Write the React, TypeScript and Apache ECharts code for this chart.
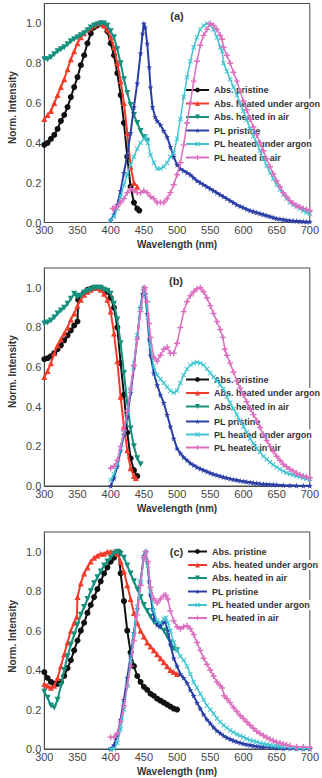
import React, { useEffect, useRef } from 'react';
import * as echarts from 'echarts';

// ---------- data ----------
const seriesNames = ['Abs. pristine', 'Abs. heated under argon', 'Abs. heated in air', 'PL pristine', 'PL heated under argon', 'PL heated in air'];
const panelLabels = ['(a)', '(b)', '(c)'];
const xMin = 300, xMax = 700, xStep = 50;
const yMin = 0, yMax = 1.1, yStep = 0.2;

// panel (a)
const aAbsPristine = [[300,.39],[305,.40],[310,.42],[315,.44],[320,.47],[325,.51],[330,.54],[335,.58],[340,.63],[345,.68],[350,.73],[355,.79],[360,.84],[365,.90],[370,.95],[375,.98],[380,.99],[385,1.0],[390,.99],[395,.96],[400,.90],[405,.84],[410,.75],[415,.64],[420,.50],[425,.33],[430,.18],[435,.10],[440,.07],[443,.06]];
const aAbsArgon = [[300,.52],[305,.54],[310,.56],[315,.60],[320,.64],[325,.68],[330,.72],[335,.77],[340,.82],[345,.86],[350,.90],[355,.93],[360,.95],[365,.97],[370,.98],[375,.99],[380,1.0],[385,1.0],[390,.99],[395,.97],[400,.93],[405,.88],[410,.80],[415,.71],[420,.60],[425,.45],[430,.28],[435,.20],[440,.18]];
const aAbsAir = [[300,.82],[305,.82],[310,.83],[315,.845],[320,.86],[325,.87],[330,.88],[335,.895],[340,.91],[345,.92],[350,.93],[355,.94],[360,.95],[365,.965],[370,.98],[375,.99],[380,.995],[385,1.0],[390,1.0],[395,.99],[400,.96],[405,.93],[410,.87],[415,.80],[420,.72],[425,.65],[430,.59],[435,.54],[440,.50],[445,.46],[450,.43],[455,.41]];
const aPLPristine = [[400,.01],[405,.04],[410,.09],[415,.16],[420,.25],[425,.34],[430,.45],[435,.58],[440,.70],[445,.85],[448,.95],[450,1.0],[452,.98],[455,.90],[458,.78],[460,.68],[463,.58],[467,.53],[470,.51],[475,.49],[480,.46],[485,.43],[490,.38],[495,.33],[500,.29],[505,.27],[510,.26],[515,.25],[520,.24],[525,.225],[530,.21],[535,.20],[540,.19],[545,.18],[550,.17],[555,.16],[560,.15],[565,.14],[570,.13],[575,.12],[580,.11],[585,.10],[590,.09],[595,.082],[600,.075],[605,.067],[610,.06],[615,.055],[620,.05],[625,.045],[630,.04],[635,.035],[640,.03],[645,.025],[650,.02],[655,.018],[660,.015],[665,.012],[670,.01],[675,.009],[680,.008],[685,.006],[690,.005],[695,.004],[700,.004]];
const aPLArgon = [[400,.01],[405,.03],[410,.07],[415,.13],[420,.19],[425,.24],[430,.29],[435,.33],[440,.37],[445,.40],[450,.42],[453,.43],[456,.40],[460,.34],[465,.30],[470,.27],[475,.27],[480,.28],[485,.30],[490,.33],[495,.35],[500,.42],[505,.52],[510,.63],[515,.73],[520,.81],[525,.88],[530,.93],[535,.97],[540,.99],[545,1.0],[550,.99],[555,.97],[560,.93],[565,.88],[568,.86],[570,.80],[575,.76],[580,.72],[585,.68],[590,.64],[595,.60],[600,.56],[605,.515],[610,.47],[615,.435],[620,.40],[625,.36],[630,.32],[635,.285],[640,.25],[645,.22],[650,.19],[655,.165],[660,.14],[665,.12],[670,.10],[675,.09],[680,.08],[685,.07],[690,.06],[695,.05],[700,.045]];
const aPLAir = [[403,.07],[405,.07],[410,.08],[415,.10],[420,.12],[425,.15],[430,.17],[435,.16],[440,.15],[445,.15],[450,.16],[455,.15],[460,.13],[465,.12],[470,.10],[475,.10],[480,.10],[485,.12],[490,.15],[495,.19],[500,.24],[505,.30],[510,.39],[515,.50],[520,.60],[525,.71],[530,.81],[535,.89],[540,.94],[545,.97],[550,1.0],[555,.99],[560,.97],[565,.94],[568,.92],[570,.88],[575,.84],[580,.80],[585,.755],[590,.71],[595,.66],[600,.61],[605,.565],[610,.52],[615,.48],[620,.44],[625,.40],[630,.36],[635,.32],[640,.28],[645,.245],[650,.21],[655,.18],[660,.15],[665,.13],[670,.11],[675,.095],[680,.085],[685,.078],[690,.07],[695,.065],[700,.06]];

// panel (b)
const bAbsPristine = [[300,.64],[305,.645],[310,.655],[315,.67],[320,.69],[325,.71],[330,.735],[335,.76],[340,.785],[345,.81],[350,.83],[351,.94],[355,.96],[360,.975],[365,.99],[370,.995],[375,1.0],[380,1.0],[385,1.0],[390,.99],[395,.98],[400,.95],[405,.90],[410,.80],[415,.62],[420,.46],[425,.27],[430,.14],[435,.08],[440,.05]];
const bAbsArgon = [[300,.55],[305,.58],[310,.62],[315,.67],[320,.71],[325,.74],[330,.77],[335,.80],[340,.84],[345,.87],[350,.91],[355,.94],[360,.965],[365,.98],[370,.99],[375,1.0],[380,1.0],[385,.99],[390,.97],[395,.94],[400,.88],[405,.77],[410,.63],[415,.45],[420,.30],[425,.18],[430,.09],[435,.05],[438,.04]];
const bAbsAir = [[300,.82],[305,.825],[310,.835],[315,.85],[320,.87],[325,.885],[330,.90],[335,.92],[340,.945],[345,.97],[348,.96],[350,.955],[355,.96],[360,.975],[365,.985],[370,.99],[375,1.0],[380,1.0],[385,1.0],[390,.99],[395,.985],[400,.97],[405,.92],[410,.84],[415,.72],[420,.57],[425,.42],[430,.29],[435,.20],[440,.14],[445,.11]];
const bPLPristine = [[400,0],[405,.04],[410,.10],[415,.18],[420,.26],[425,.35],[430,.47],[435,.60],[440,.75],[445,.90],[448,.97],[450,1.0],[452,.97],[455,.87],[458,.74],[460,.66],[465,.57],[470,.51],[475,.46],[480,.42],[485,.36],[490,.30],[495,.24],[500,.19],[505,.165],[510,.145],[515,.13],[520,.115],[525,.105],[530,.095],[535,.087],[540,.08],[545,.073],[550,.066],[555,.06],[560,.055],[565,.05],[570,.045],[575,.041],[580,.037],[585,.033],[590,.03],[595,.027],[600,.024],[605,.021],[610,.019],[615,.016],[620,.014],[625,.012],[630,.01],[635,.009],[640,.008],[645,.007],[650,.006],[660,.004],[670,.003],[680,.002],[690,.0015],[700,.001]];
const bPLArgon = [[400,.03],[405,.06],[410,.11],[415,.19],[420,.27],[425,.37],[430,.49],[435,.62],[440,.76],[445,.90],[450,1.0],[453,.96],[456,.85],[460,.70],[465,.60],[470,.56],[475,.54],[480,.52],[485,.50],[490,.48],[495,.47],[500,.48],[505,.52],[510,.56],[515,.59],[520,.61],[525,.62],[530,.625],[535,.62],[540,.61],[545,.59],[550,.57],[555,.55],[560,.53],[565,.51],[570,.49],[575,.45],[580,.42],[585,.39],[590,.36],[595,.33],[600,.30],[605,.27],[610,.24],[615,.215],[620,.19],[625,.17],[630,.15],[635,.135],[640,.12],[645,.107],[650,.095],[655,.085],[660,.075],[665,.067],[670,.06],[675,.055],[680,.05],[685,.045],[690,.04],[695,.037],[700,.035]];
const bPLAir = [[400,.09],[405,.10],[410,.13],[415,.20],[420,.28],[425,.38],[430,.49],[435,.61],[440,.74],[445,.88],[450,.99],[452,1.0],[455,.93],[458,.82],[460,.75],[465,.65],[470,.63],[475,.66],[480,.69],[485,.70],[490,.67],[495,.67],[500,.72],[505,.80],[510,.88],[515,.93],[520,.96],[525,.98],[530,.995],[535,1.0],[540,.98],[545,.95],[550,.91],[555,.87],[560,.83],[565,.79],[569,.75],[572,.69],[575,.66],[580,.62],[585,.575],[590,.53],[595,.495],[600,.46],[605,.425],[610,.39],[615,.36],[620,.33],[625,.295],[630,.26],[635,.23],[640,.20],[645,.175],[650,.15],[655,.13],[660,.11],[665,.097],[670,.085],[675,.075],[680,.065],[685,.057],[690,.05],[695,.045],[700,.04]];

// panel (c)
const cAbsPristine = [[300,.39],[305,.36],[310,.34],[315,.33],[320,.33],[325,.34],[330,.37],[335,.41],[340,.45],[345,.50],[350,.55],[355,.60],[360,.64],[365,.69],[370,.73],[375,.77],[380,.81],[385,.85],[390,.89],[395,.92],[400,.95],[405,.97],[410,.99],[412,1.0],[415,.89],[420,.75],[425,.60],[430,.49],[435,.42],[440,.37],[445,.34],[450,.315],[455,.30],[460,.28],[465,.27],[470,.255],[475,.245],[480,.235],[485,.225],[490,.215],[495,.205],[500,.20]];
const cAbsArgon = [[300,.33],[305,.32],[310,.31],[315,.32],[320,.36],[325,.42],[330,.48],[335,.54],[340,.60],[345,.64],[349,.67],[350,.77],[355,.84],[360,.89],[365,.92],[370,.95],[375,.97],[380,.98],[385,.99],[390,.99],[395,1.0],[400,1.0],[405,1.0],[410,.99],[415,.95],[420,.90],[425,.83],[430,.76],[435,.69],[440,.64],[445,.60],[450,.57],[455,.54],[460,.52],[465,.50],[470,.48],[475,.46],[480,.44],[485,.42],[490,.40],[495,.39],[500,.38]];
const cAbsAir = [[300,.29],[305,.26],[310,.22],[315,.21],[320,.25],[325,.32],[330,.40],[335,.47],[340,.53],[345,.58],[350,.63],[355,.68],[360,.72],[365,.76],[370,.80],[375,.84],[380,.87],[385,.90],[390,.93],[395,.95],[400,.97],[405,.99],[410,1.0],[415,.99],[420,.97],[425,.93],[430,.89],[435,.85],[440,.81],[445,.77],[450,.73],[455,.70],[460,.67],[465,.645],[470,.63],[475,.62],[480,.60],[485,.57],[490,.54],[495,.51],[500,.50]];
const cPLPristine = [[400,0],[405,.02],[410,.07],[415,.15],[420,.25],[425,.36],[430,.47],[435,.59],[440,.71],[445,.85],[450,.98],[452,1.0],[455,.95],[458,.85],[460,.78],[463,.71],[466,.66],[470,.63],[474,.62],[478,.64],[482,.645],[486,.60],[490,.53],[495,.46],[500,.42],[505,.38],[510,.36],[515,.335],[520,.30],[525,.27],[530,.235],[535,.205],[540,.175],[545,.15],[550,.13],[555,.11],[560,.093],[565,.08],[570,.068],[575,.058],[580,.05],[585,.043],[590,.037],[595,.032],[600,.027],[605,.023],[610,.02],[615,.017],[620,.014],[625,.012],[630,.01],[640,.007],[650,.005],[660,.003],[670,.0025],[680,.002],[690,.0015],[700,.001]];
const cPLArgon = [[400,0],[405,0],[410,.03],[415,.10],[420,.20],[425,.32],[430,.45],[435,.58],[440,.72],[445,.85],[450,.97],[453,1.0],[456,.93],[460,.80],[465,.70],[470,.65],[475,.64],[480,.66],[483,.665],[486,.64],[490,.60],[495,.54],[500,.50],[505,.47],[510,.45],[515,.42],[520,.38],[525,.34],[530,.31],[535,.28],[540,.25],[545,.22],[550,.20],[555,.18],[560,.155],[565,.137],[570,.12],[575,.107],[580,.095],[585,.085],[590,.075],[595,.067],[600,.06],[605,.052],[610,.045],[615,.04],[620,.035],[625,.031],[630,.027],[635,.023],[640,.02],[645,.017],[650,.014],[655,.012],[660,.01],[670,.007],[680,.005],[690,.003],[700,.002]];
const cPLAir = [[400,.06],[405,.06],[410,.08],[415,.14],[420,.22],[425,.32],[430,.42],[435,.55],[440,.68],[445,.83],[450,.97],[453,1.0],[456,.95],[460,.82],[465,.76],[470,.74],[475,.76],[480,.78],[483,.78],[486,.76],[490,.70],[495,.65],[500,.62],[505,.61],[510,.62],[515,.625],[520,.61],[525,.58],[530,.54],[535,.50],[540,.46],[545,.43],[550,.40],[555,.37],[560,.34],[565,.32],[568,.31],[571,.27],[575,.255],[580,.235],[585,.21],[590,.19],[595,.17],[600,.155],[605,.137],[610,.12],[615,.105],[620,.09],[625,.078],[630,.068],[635,.058],[640,.05],[645,.042],[650,.035],[655,.03],[660,.025],[665,.021],[670,.017],[680,.012],[690,.01],[700,.008]];

const panelData = [
  [aAbsPristine, aAbsArgon, aAbsAir, aPLPristine, aPLArgon, aPLAir],
  [bAbsPristine, bAbsArgon, bAbsAir, bPLPristine, bPLArgon, bPLAir],
  [cAbsPristine, cAbsArgon, cAbsAir, cPLPristine, cPLArgon, cPLAir],
];

// ---------- styling / layout ----------
const FONT = '"Liberation Sans", Arial, Helvetica, sans-serif';
const colors = ['#111111', '#f23b2b', '#14907d', '#2a3ea6', '#3fc5d1', '#dc6ec0'];
const STAR = 'path://M50,0L61,35L98,35L68,57L79,91L50,70L21,91L32,57L2,35L39,35Z';
const CROSS = 'path://M0,14L14,0L50,36L86,0L100,14L64,50L100,86L86,100L50,64L14,100L0,86L36,50Z';
const PLUS = 'path://M38,0H62V38H100V62H62V100H38V62H0V38H38Z';
const symbols = ['circle', 'triangle', 'triangle', STAR, CROSS, PLUS];
const symbolRot = [0, 0, 180, 0, 0, 0];
const symbolSizes = [6, 6, 6, 6, 5, 6];
const lineWidths = [2, 2, 2, 2, 1.5, 1.5];

const gridLeft = 44.3;
const gridWidth = 268.4;
const gridTops = [3.5, 268, 532];
const gridHeights = [219, 218, 217];
const legendLefts = [185, 185, 187];
const legendIconW = [23, 23, 19];
const legendRows = [
  [90, 103.5, 117, 130.5, 144, 157.5],
  [379.5, 393, 406.5, 421.5, 434.5, 447.5],
  [551.5, 565, 578, 591.5, 605, 618],
];
const labelPos = [[177, 16], [176, 281], [176.5, 551.5]];
const yNameCenters = [107.5, 371.7, 636.3];

export default function App() {
  const ref = useRef<HTMLDivElement>(null);
  useEffect(() => {
    if (!ref.current) return;
    const chart = echarts.init(ref.current, undefined, { renderer: 'svg' });

    const grid = gridTops.map((t, p) => ({
      left: gridLeft, top: t, width: gridWidth, height: gridHeights[p],
      show: true, borderColor: '#4a4a4a', borderWidth: 1, backgroundColor: 'transparent',
    }));
    const xAxis = gridTops.map((_, p) => ({
      type: 'value', gridIndex: p, min: xMin, max: xMax, interval: xStep,
      axisLine: { show: true, lineStyle: { color: '#4a4a4a', width: 1 } },
      axisTick: { show: false }, splitLine: { show: false },
      axisLabel: { fontSize: 11, color: '#444', margin: 2, fontFamily: FONT },
      name: 'Wavelength (nm)', nameLocation: 'middle', nameGap: 17,
      nameTextStyle: { fontSize: 10, fontWeight: 'bold', color: '#333', fontFamily: FONT },
    }));
    const yAxis = gridTops.map((_, p) => ({
      type: 'value', gridIndex: p, min: yMin, max: yMax, interval: yStep,
      axisLine: { show: true, lineStyle: { color: '#4a4a4a', width: 1 } },
      axisTick: { show: false }, splitLine: { show: false },
      axisLabel: {
        fontSize: 11, color: '#444', margin: 3, fontFamily: FONT, showMaxLabel: false,
        formatter: (v: number) => {
          const r = Math.round(v / yStep) * yStep;
          return Math.abs(v - r) < 1e-6 ? v.toFixed(1) : '';
        },
      },
    }));

    const series: any[] = [];
    panelData.forEach((sets, p) => {
      sets.forEach((d, i) => {
        series.push({
          type: 'line', name: seriesNames[i], xAxisIndex: p, yAxisIndex: p,
          data: d, symbol: symbols[i], symbolSize: symbolSizes[i], symbolRotate: symbolRot[i],
          showSymbol: true, silent: true, z: 2 + i,
          itemStyle: { color: colors[i] }, lineStyle: { color: colors[i], width: lineWidths[i] },
        });
      });
    });

    const legend: any[] = [];
    legendRows.forEach((rows, p) => {
      rows.forEach((cy, i) => {
        legend.push({
          data: [seriesNames[i]], left: legendLefts[p], top: cy - 5, orient: 'horizontal',
          itemWidth: legendIconW[p], itemHeight: 6, padding: [0, 2, 0, 0], selectedMode: false,
          backgroundColor: '#ffffff',
          textStyle: { fontSize: 9, fontWeight: 'bold', color: '#333', fontFamily: FONT, lineHeight: 10 },
        });
      });
    });

    const graphic: any[] = [];
    panelLabels.forEach((t, p) => {
      graphic.push({
        type: 'text', x: labelPos[p][0], y: labelPos[p][1], z: 10,
        style: { text: t, textAlign: 'center', textVerticalAlign: 'middle', fill: '#333', font: `bold 11px ${FONT}` },
      });
      graphic.push({
        type: 'text', x: 12, y: yNameCenters[p], rotation: Math.PI / 2, z: 10,
        style: { text: 'Norm. Intensity', textAlign: 'center', textVerticalAlign: 'middle', fill: '#333', font: `bold 10px ${FONT}` },
      });
    });

    chart.setOption({
      animation: false,
      backgroundColor: '#ffffff',
      grid, xAxis, yAxis, series, legend, graphic,
    });
    return () => chart.dispose();
  }, []);
  return <div ref={ref} style={{ position: 'absolute', left: 0, top: 0, width: 322, height: 778 }} />;
}
